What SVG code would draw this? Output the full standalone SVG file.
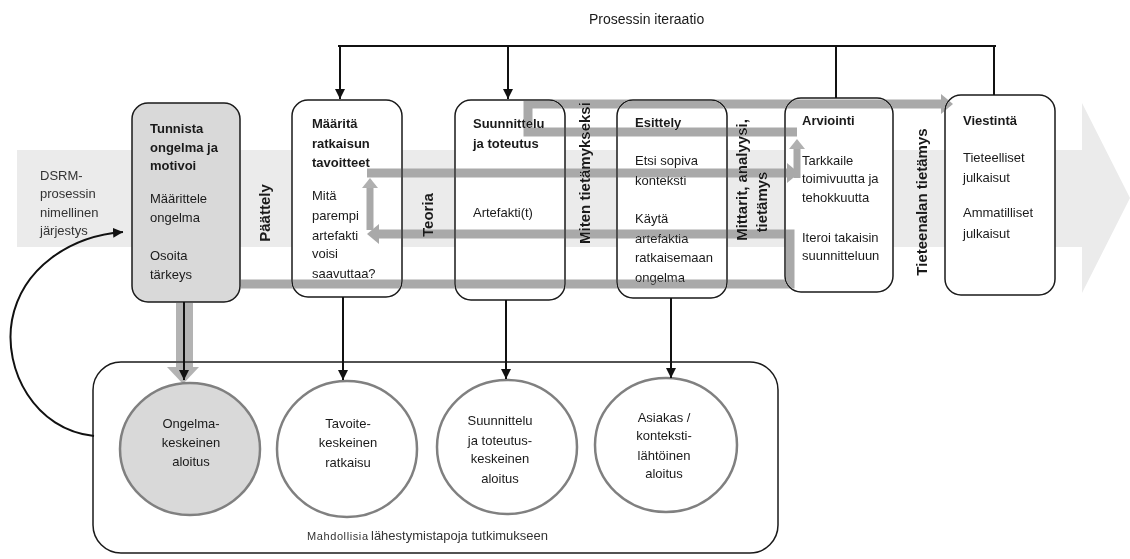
<svg xmlns="http://www.w3.org/2000/svg" width="1130" height="559" viewBox="0 0 1130 559">
  <style>
    .t { font-family: "Liberation Sans", Arial, sans-serif; font-size: 13px; fill: #1a1a1a; }
    .b { font-weight: bold; }
    .v { font-family: "Liberation Sans", Arial, sans-serif; font-size: 15px; font-weight: bold; fill: #1a1a1a; }
    .c { text-anchor: middle; }
    .box { fill: #ffffff; stroke: #1a1a1a; stroke-width: 1.5; }
    .box.grey { fill: #d9d9d9; }
    .circ { fill: #ffffff; stroke: #808080; stroke-width: 2.5; }
    .circ.grey { fill: #d9d9d9; }
    .flow { fill: none; stroke: #a9a9a9; stroke-linejoin: miter; }
    .link { fill: none; stroke: #111111; stroke-width: 2; }
    #flows { mix-blend-mode: darken; }
  </style>
  <defs>
    <marker id="grayHead" markerUnits="userSpaceOnUse" markerWidth="13" markerHeight="20" refX="1" refY="10" orient="auto">
      <path d="M0,0 L12,10 L0,20 z" fill="#a9a9a9"/>
    </marker>
    <marker id="grayHeadSmall" markerUnits="userSpaceOnUse" markerWidth="11" markerHeight="16" refX="1" refY="8" orient="auto">
      <path d="M0,0 L10,8 L0,16 z" fill="#b0b0b0"/>
    </marker>
    <marker id="blackHead" markerUnits="userSpaceOnUse" markerWidth="11" markerHeight="10" refX="10" refY="5" orient="auto">
      <path d="M0,0 L10,5 L0,10 z" fill="#111111"/>
    </marker>
  </defs>

  <rect width="1130" height="559" fill="#ffffff"/>

  <!-- broad process arrow in the background -->
  <polygon points="17,150 1082,150 1082,103 1130,198 1082,293 1082,247 17,247" fill="#ebebeb"/>

  <text class="t" x="589" y="24" style="font-size:14px">Prosessin iteraatio</text>

  <text class="t" style="fill:#333333">
    <tspan x="40" y="180">DSRM-</tspan>
    <tspan x="40" y="198">prosessin</tspan>
    <tspan x="40" y="217">nimellinen</tspan>
    <tspan x="40" y="235">järjestys</tspan>
  </text>

  <!-- knowledge labels between phases -->
  <text class="v c" x="265" y="218" transform="rotate(-90 265 213)">Päättely</text>
  <text class="v c" x="428" y="220" transform="rotate(-90 428 215)">Teoria</text>
  <text class="v c" x="585" y="178" transform="rotate(-90 585 173)">Miten tietämykseksi</text>
  <text class="v c" x="742" y="185" transform="rotate(-90 742 180)">Mittarit, analyysi,</text>
  <text class="v c" x="762" y="207" transform="rotate(-90 762 202)">tietämys</text>
  <text class="v c" x="922" y="207" transform="rotate(-90 922 202)">Tieteenalan tietämys</text>

  <!-- container of entry points -->
  <g id="entry-points">
    <rect x="93" y="362" width="685" height="191" rx="28" fill="none" stroke="#1a1a1a" stroke-width="1.5"/>
    <text class="t" x="307" y="540" style="font-size:11px;fill:#333333" textLength="61">Mahdollisia</text>
    <text class="t" x="371" y="540" style="fill:#333333">lähestymistapoja tutkimukseen</text>
  </g>

  <!-- phases -->
  <g id="phase-identify">
    <rect class="box grey" x="132" y="103" width="108" height="199" rx="16"/>
    <text class="t b" x="150" y="133">Tunnista</text>
    <text class="t b" x="150" y="152">ongelma ja</text>
    <text class="t b" x="150" y="170">motivoi</text>
    <text class="t" x="150" y="203">Määrittele</text>
    <text class="t" x="150" y="222">ongelma</text>
    <text class="t" x="150" y="260">Osoita</text>
    <text class="t" x="150" y="279">tärkeys</text>
  </g>

  <g id="phase-objectives">
    <rect class="box" x="292" y="100" width="110" height="197" rx="16"/>
    <text class="t b" x="312" y="128">Määritä</text>
    <text class="t b" x="312" y="148">ratkaisun</text>
    <text class="t b" x="312" y="167">tavoitteet</text>
    <text class="t" x="312" y="200">Mitä</text>
    <text class="t" x="312" y="220">parempi</text>
    <text class="t" x="312" y="240">artefakti</text>
    <text class="t" x="312" y="258">voisi</text>
    <text class="t" x="312" y="278">saavuttaa?</text>
  </g>

  <g id="phase-design">
    <rect class="box" x="455" y="100" width="110" height="200" rx="16"/>
    <text class="t b" x="473" y="128">Suunnittelu</text>
    <text class="t b" x="473" y="148">ja toteutus</text>
    <text class="t" x="473" y="217">Artefakti(t)</text>
  </g>

  <g id="phase-demonstration">
    <rect class="box" x="617" y="100" width="110" height="198" rx="16"/>
    <text class="t b" x="635" y="127">Esittely</text>
    <text class="t" x="635" y="165">Etsi sopiva</text>
    <text class="t" x="635" y="185">konteksti</text>
    <text class="t" x="635" y="223">Käytä</text>
    <text class="t" x="635" y="243">artefaktia</text>
    <text class="t" x="635" y="262">ratkaisemaan</text>
    <text class="t" x="635" y="282">ongelma</text>
  </g>

  <g id="phase-evaluation">
    <rect class="box" x="785" y="98" width="108" height="194" rx="16"/>
    <text class="t b" x="802" y="125">Arviointi</text>
    <text class="t" x="802" y="165">Tarkkaile</text>
    <text class="t" x="802" y="183">toimivuutta ja</text>
    <text class="t" x="802" y="202">tehokkuutta</text>
    <text class="t" x="802" y="242">Iteroi takaisin</text>
    <text class="t" x="802" y="260">suunnitteluun</text>
  </g>

  <g id="phase-communication">
    <rect class="box" x="945" y="95" width="110" height="200" rx="16"/>
    <text class="t b" x="963" y="125">Viestintä</text>
    <text class="t" x="963" y="162">Tieteelliset</text>
    <text class="t" x="963" y="182">julkaisut</text>
    <text class="t" x="963" y="217">Ammatilliset</text>
    <text class="t" x="963" y="238">julkaisut</text>
  </g>

  <!-- entry point circles -->
  <g id="entry-problem">
    <ellipse class="circ grey" cx="190" cy="449" rx="70" ry="66"/>
    <text class="t c" x="191" y="428">Ongelma-</text>
    <text class="t c" x="191" y="447">keskeinen</text>
    <text class="t c" x="191" y="466">aloitus</text>
  </g>

  <g id="entry-objective">
    <ellipse class="circ" cx="347" cy="449" rx="70" ry="68"/>
    <text class="t c" x="348" y="428">Tavoite-</text>
    <text class="t c" x="348" y="447">keskeinen</text>
    <text class="t c" x="348" y="467">ratkaisu</text>
  </g>

  <g id="entry-design">
    <ellipse class="circ" cx="507" cy="447" rx="70" ry="67"/>
    <text class="t c" x="500" y="425">Suunnittelu</text>
    <text class="t c" x="500" y="445">ja toteutus-</text>
    <text class="t c" x="500" y="463">keskeinen</text>
    <text class="t c" x="500" y="483">aloitus</text>
  </g>

  <g id="entry-context">
    <ellipse class="circ" cx="666" cy="445" rx="71" ry="67"/>
    <text class="t c" x="664" y="422">Asiakas /</text>
    <text class="t c" x="664" y="440">konteksti-</text>
    <text class="t c" x="664" y="460">lähtöinen</text>
    <text class="t c" x="664" y="478">aloitus</text>
  </g>

  <!-- connectors -->
  <g id="connectors">
    <g id="flows">
      <!-- knowledge flows between phases -->
      <path class="flow" stroke-width="9" d="M797 132 L528 132 L528 104 L942 104" marker-end="url(#grayHead)"/>
      <path class="flow" stroke-width="9" d="M367 173 L788 173" marker-end="url(#grayHead)"/>
      <path class="flow" stroke-width="7" d="M797 178 L797 148" marker-end="url(#grayHeadSmall)"/>
      <path class="flow" stroke-width="9" d="M240 284 L790 284 L790 234 L378 234" marker-end="url(#grayHead)"/>
      <path class="flow" stroke-width="7" d="M370 230 L370 187" marker-end="url(#grayHeadSmall)"/>
      <!-- wide entry flow into the problem-centred start -->
      <rect x="176" y="302" width="17" height="66" fill="#b3b3b3"/>
      <polygon points="167,367 199,367 183,384" fill="#b3b3b3"/>
    </g>

    <!-- process iteration -->
    <path class="link" d="M338 46 L996 46" stroke-width="3"/>
    <path class="link" d="M340 46 L340 99" marker-end="url(#blackHead)"/>
    <path class="link" d="M508 46 L508 99" marker-end="url(#blackHead)"/>
    <path class="link" d="M836 46 L836 98"/>
    <path class="link" d="M994 46 L994 95"/>

    <!-- phases to entry points -->
    <path class="link" d="M184 302 L184 380" marker-end="url(#blackHead)"/>
    <path class="link" d="M343 297 L343 380" marker-end="url(#blackHead)"/>
    <path class="link" d="M506 300 L506 379" marker-end="url(#blackHead)"/>
    <path class="link" d="M671 298 L671 378" marker-end="url(#blackHead)"/>

    <!-- nominal process order -->
    <path class="link" d="M94 436 C35 430 3 370 12 320 C22 268 70 236 123 232" marker-end="url(#blackHead)"/>
  </g>
</svg>
